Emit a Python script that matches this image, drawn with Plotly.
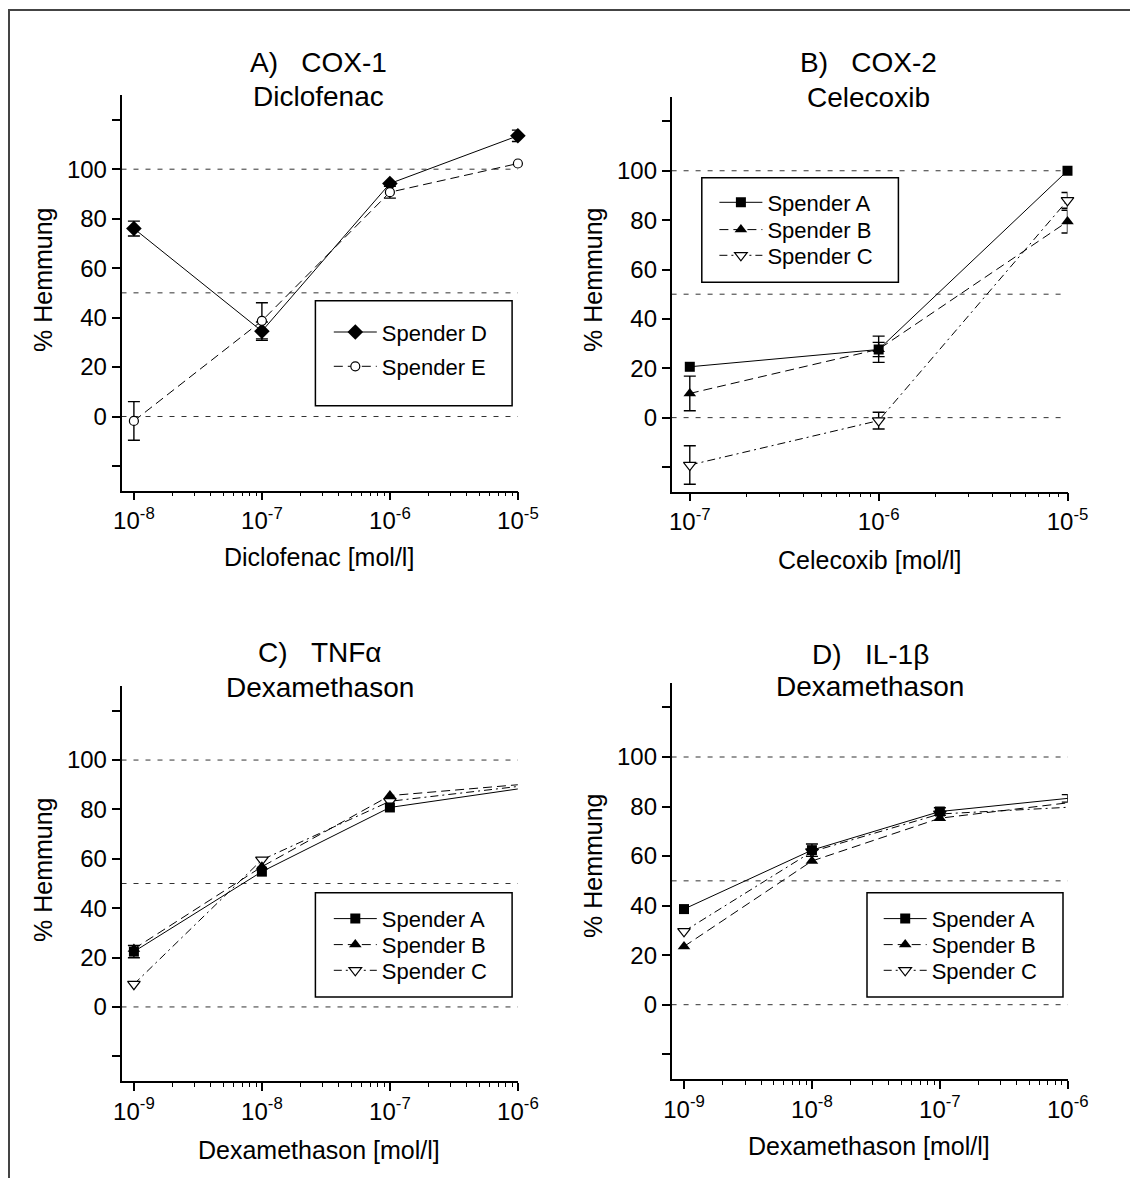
import plotly.graph_objects as go

W, H = 1130, 1178

# ---------------- data ----------------
# Panel A: COX-1 / Diclofenac
a_x = [1e-8, 1e-7, 1e-6, 1e-5]
a_d = [76.0, 34.5, 94.2, 113.5]
a_d_err = [3.0, 3.7, 0, 2.3]
a_e = [-1.8, 38.7, 90.7, 102.3]
a_e_err = [7.8, 7.3, 2.4, 0]

# Panel B: COX-2 / Celecoxib
b_x = [1e-7, 1e-6, 1e-5]
b_a = [20.6, 27.6, 100.0]
b_a_err = [0, 2.9, 0]
b_b = [9.8, 27.7, 79.4]
b_b_err = [7.0, 5.3, 4.6]
b_c = [-19.2, -1.2, 88.0]
b_c_err = [7.8, 3.4, 3.2]

# Panel C: TNFalpha / Dexamethason
c_x = [1e-9, 1e-8, 1e-7, 1e-6]
c_a = [22.4, 54.8, 80.8, 88.3]
c_a_err = [2.5, 0, 0, 0]
c_b = [23.5, 56.8, 85.6, 90.0]
c_b_err = [0, 0, 0, 0]
c_c = [9.2, 59.6, 83.3, 89.3]
c_c_err = [0, 0, 0, 0]

# Panel D: IL-1beta / Dexamethason
d_x = [1e-9, 1e-8, 1e-7, 1e-6]
d_a = [38.6, 62.4, 78.0, 83.3]
d_a_err = [0, 2.5, 1.5, 1.5]
d_b = [23.5, 58.0, 75.3, 81.5]
d_b_err = [0, 0, 0, 0]
d_c = [29.6, 61.8, 77.0, 79.7]
d_c_err = [0, 0, 0, 0]

y_tickvals = [0, 20, 40, 60, 80, 100]
y_ticktext = ["0", "20", "40", "60", "80", "100"]
y_unlabeled_ticks = [-20, 120]
ref_lines = [0, 50, 100]

titles = [("A)\u00a0\u00a0\u00a0COX-1", "Diclofenac"),
          ("B)\u00a0\u00a0\u00a0COX-2", "Celecoxib"),
          ("C)\u00a0\u00a0\u00a0TNF\u03b1", "Dexamethason"),
          ("D)\u00a0\u00a0\u00a0IL-1\u03b2", "Dexamethason")]
x_titles = ["Diclofenac [mol/l]", "Celecoxib [mol/l]",
            "Dexamethason [mol/l]", "Dexamethason [mol/l]"]
y_title = "% Hemmung"

FONT = "Arial, Liberation Sans, sans-serif"

def px_x(v):
    return v / W

def px_y(v):
    return 1 - v / H

# panel geometry in pixels: axis left, first decade px, last decade px, top, bottom
geom = [
    dict(left=121.5, d0=133.9, d1=517.9, e0=-8, e1=-5, top=95.0, bottom=490.7),
    dict(left=671.6, d0=689.8, d1=1067.5, e0=-7, e1=-5, top=96.7, bottom=491.7),
    dict(left=121.5, d0=133.9, d1=517.9, e0=-9, e1=-6, top=686.0, bottom=1081.0),
    dict(left=671.6, d0=684.0, d1=1067.8, e0=-9, e1=-6, top=682.7, bottom=1079.0),
]
title_pos = [(318, 62.5, 96.5), (868, 62.5, 97), (320, 652.5, 687), (870, 654, 686)]
xtitle_pos = [(319, 557.5), (869, 560), (319, 1150), (869, 1146)]
ytitle_pos = [(43, 280), (593, 280), (43, 870), (593, 866)]
legend_boxes = [(315.4, 300.7, 512.1, 405.7), (701.8, 177.7, 898.4, 282.3),
                (315.4, 892.7, 512.1, 997.0), (867.0, 892.7, 1063.0, 997.0)]
# legend entry positions: marker x per panel, entry centre y per rank
legend_marker_x = [351.8, 737.4, 351.8, 901.7]
legend_entry_y = [[331.7, 366.0], [202.0, 229.3, 255.0],
                  [918.3, 944.3, 970.0], [918.3, 944.3, 970.0]]

fig = go.Figure()

def sup(e):
    return "10<sup>%d</sup>" % e

layout = dict(width=W, height=H,
              margin=dict(l=0, r=0, t=0, b=0, pad=0, autoexpand=False),
              autosize=False,
              paper_bgcolor="white", plot_bgcolor="white",
              font=dict(family=FONT, color="black"))
shapes = []
annotations = []

for i, g in enumerate(geom):
    n = "" if i == 0 else str(i + 1)
    dec = (g["d1"] - g["d0"]) / (g["e1"] - g["e0"])
    rng = [g["e0"] - (g["d0"] - g["left"]) / dec, g["e1"]]
    majors = [10.0 ** e for e in range(g["e0"], g["e1"] + 1)]
    minors = [k * 10.0 ** e for e in range(g["e0"], g["e1"]) for k in range(2, 10)]
    layout["xaxis" + n] = dict(
        type="log", domain=[px_x(g["left"]), px_x(g["d1"])], range=rng,
        anchor="y" + n, showline=True, linecolor="black", linewidth=1.5,
        ticks="outside", ticklen=8, tickwidth=1.5, tickcolor="black",
        tickvals=majors, ticktext=[sup(e) for e in range(g["e0"], g["e1"] + 1)],
        tickfont=dict(size=24, family=FONT), showgrid=False, zeroline=False,
        automargin=False,
        minor=dict(tickvals=minors, ticks="outside", ticklen=4, tickwidth=1.2,
                   tickcolor="black", showgrid=False))
    layout["yaxis" + n] = dict(
        domain=[px_y(g["bottom"]), px_y(g["top"])], range=[-30, 130],
        anchor="x" + n, showline=True, linecolor="black", linewidth=1.5,
        ticks="outside", ticklen=8, tickwidth=1.5, tickcolor="black",
        tickvals=y_tickvals, ticktext=y_ticktext, automargin=False,
        tickfont=dict(size=24, family=FONT), showgrid=False, zeroline=False,
        minor=dict(tickvals=y_unlabeled_ticks, ticks="outside", ticklen=8,
                   tickwidth=1.5, tickcolor="black", showgrid=False))
    for rv in ref_lines:
        shapes.append(dict(type="line", xref="x%s domain" % n, yref="y" + n,
                           x0=0, x1=1, y0=rv, y1=rv, layer="below",
                           line=dict(color="#333333", width=1, dash="5px,7px")))
    bx0, by0, bx1, by1 = legend_boxes[i]
    shapes.append(dict(type="rect", xref="paper", yref="paper",
                       x0=px_x(bx0), x1=px_x(bx1), y0=px_y(by1), y1=px_y(by0),
                       line=dict(color="black", width=1.5), layer="above"))
    tx, ty1, ty2 = title_pos[i]
    annotations.append(dict(text=titles[i][0], x=px_x(tx), y=px_y(ty1), xref="paper",
                            yref="paper", showarrow=False, xanchor="center",
                            yanchor="middle", font=dict(size=28, family=FONT)))
    annotations.append(dict(text=titles[i][1], x=px_x(tx), y=px_y(ty2), xref="paper",
                            yref="paper", showarrow=False, xanchor="center",
                            yanchor="middle", font=dict(size=28, family=FONT)))
    xx, xy = xtitle_pos[i]
    annotations.append(dict(text=x_titles[i], x=px_x(xx), y=px_y(xy), xref="paper",
                            yref="paper", showarrow=False, xanchor="center",
                            yanchor="middle", font=dict(size=25, family=FONT)))
    yx, yy = ytitle_pos[i]
    annotations.append(dict(text=y_title, x=px_x(yx), y=px_y(yy), xref="paper",
                            yref="paper", showarrow=False, xanchor="center",
                            yanchor="middle", textangle=-90,
                            font=dict(size=25, family=FONT)))

# outer frame (top and left edges)
shapes.append(dict(type="line", xref="paper", yref="paper", x0=px_x(8), x1=1,
                   y0=px_y(10), y1=px_y(10), line=dict(color="#444444", width=2)))
shapes.append(dict(type="line", xref="paper", yref="paper", x0=px_x(9), x1=px_x(9),
                   y0=px_y(10), y1=0, line=dict(color="#444444", width=2)))

SOLID = "solid"
DASH = "9px,5px"
DASHDOT = "8px,4px,2px,4px"

mk_diamond = dict(symbol="diamond", size=12, color="black")
mk_circle = dict(symbol="circle", size=9, color="white", line=dict(color="black", width=1.2))
mk_square = dict(symbol="square", size=10, color="black")
mk_tri = dict(symbol="triangle-up", size=11, color="black")
mk_tridown = dict(symbol="triangle-down", size=11, color="white",
                  line=dict(color="black", width=1.2))

legend_counter = [0]

def add_series(panel, x, y, err, name, dash, marker, rank):
    n = "" if panel == 0 else str(panel + 1)
    ex = [x[k] for k in range(len(x)) if err[k] > 0]
    ey = [y[k] for k in range(len(x)) if err[k] > 0]
    ee = [err[k] for k in range(len(x)) if err[k] > 0]
    if ex:
        fig.add_trace(go.Scatter(x=ex, y=ey, mode="markers", showlegend=False,
                                 marker=dict(size=1, opacity=0),
                                 error_y=dict(type="data", array=ee, color="black",
                                              thickness=1.4, width=6),
                                 xaxis="x" + n, yaxis="y" + n, hoverinfo="skip",
                                 cliponaxis=False))
    legend_counter[0] += 1
    k = legend_counter[0]
    lname = "legend" if k == 1 else "legend%d" % k
    fig.add_trace(go.Scatter(x=x, y=y, mode="lines+markers", name=name,
                             line=dict(color="black", width=1, dash=dash),
                             marker=marker, xaxis="x" + n, yaxis="y" + n,
                             legend=lname, cliponaxis=False))
    lx = legend_marker_x[panel] - 23
    ly = legend_entry_y[panel][rank - 1] - 20.5
    fig.update_layout({lname: dict(x=px_x(lx), y=px_y(ly), xanchor="left",
                                   yanchor="top", bgcolor="rgba(0,0,0,0)",
                                   borderwidth=0, itemwidth=43,
                                   font=dict(size=22, family=FONT, color="black"))})

add_series(0, a_x, a_d, a_d_err, "Spender D", SOLID, mk_diamond, 1)
add_series(0, a_x, a_e, a_e_err, "Spender E", DASH, mk_circle, 2)

add_series(1, b_x, b_c, b_c_err, "Spender C", DASHDOT, mk_tridown, 3)
add_series(1, b_x, b_b, b_b_err, "Spender B", DASH, mk_tri, 2)
add_series(1, b_x, b_a, b_a_err, "Spender A", SOLID, mk_square, 1)

add_series(2, c_x, c_c, c_c_err, "Spender C", DASHDOT, mk_tridown, 3)
add_series(2, c_x, c_b, c_b_err, "Spender B", DASH, mk_tri, 2)
add_series(2, c_x, c_a, c_a_err, "Spender A", SOLID, mk_square, 1)

add_series(3, d_x, d_c, d_c_err, "Spender C", DASHDOT, mk_tridown, 3)
add_series(3, d_x, d_b, d_b_err, "Spender B", DASH, mk_tri, 2)
add_series(3, d_x, d_a, d_a_err, "Spender A", SOLID, mk_square, 1)

layout["shapes"] = shapes
layout["annotations"] = annotations
fig.update_layout(**layout)

post = ("document.documentElement.style.margin='0';"
        "document.body.style.margin='0';"
        "document.body.style.overflow='hidden';")
fig.write_html("out.html", config={"responsive": False}, post_script=post)
